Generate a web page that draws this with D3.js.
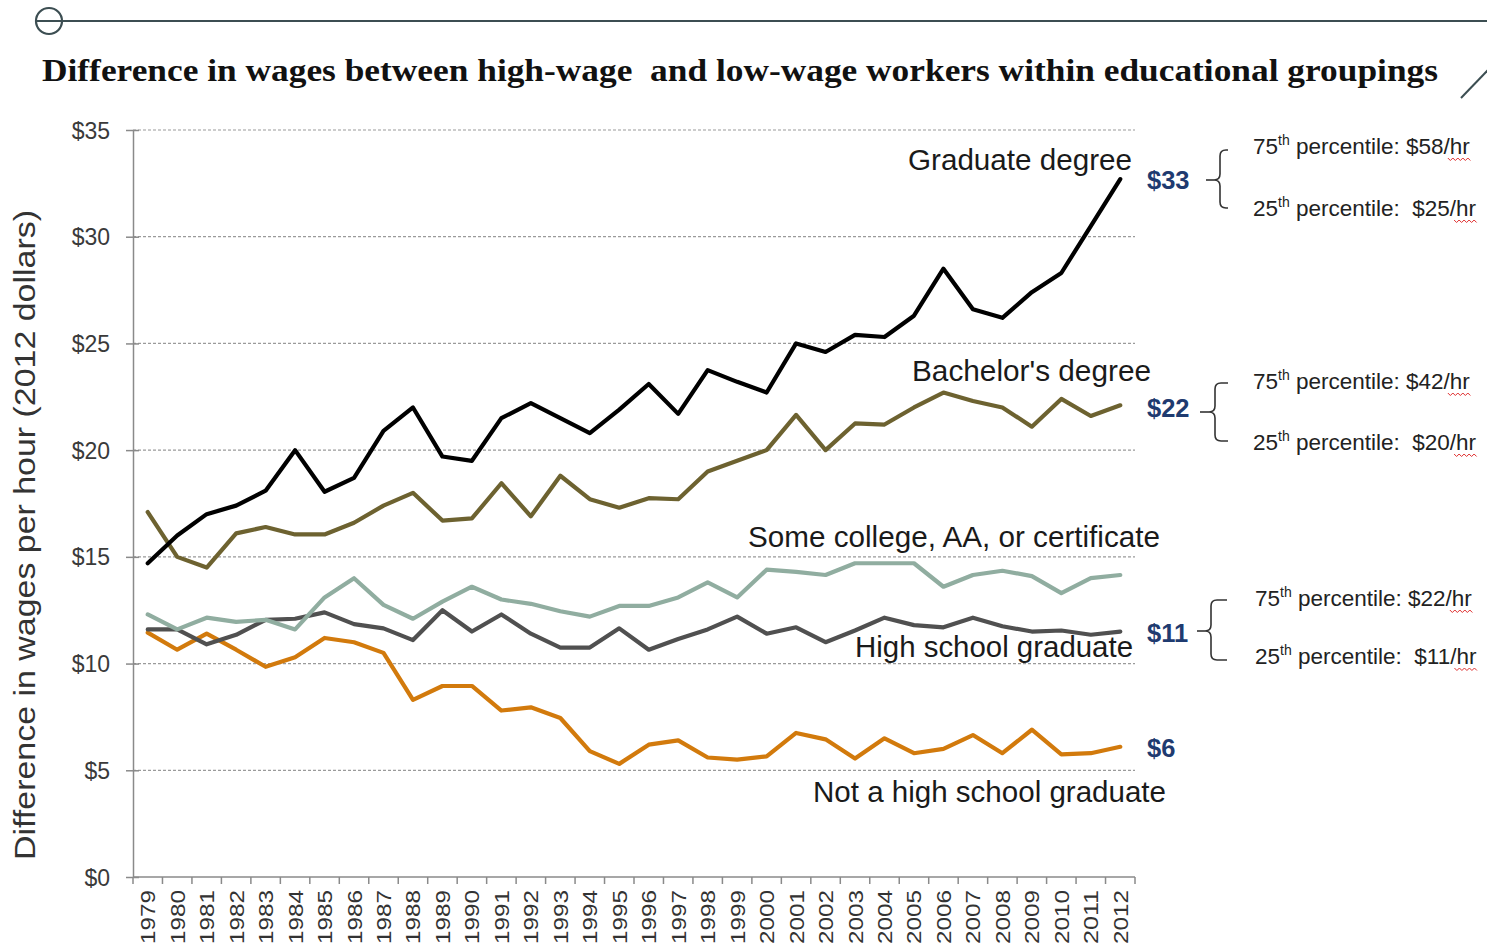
<!DOCTYPE html>
<html>
<head>
<meta charset="utf-8">
<script src="https://cdn.jsdelivr.net/npm/d3@7"></script>
<style>
  html, body { margin: 0; padding: 0; background: #fff; }
  svg { display: block; }
  text { font-family: "Liberation Sans", Arial, sans-serif; }
</style>
</head>
<body>
<svg id="chart" width="1487" height="952"></svg>
<script>
// ---------- DATA ----------
const years = [1979,1980,1981,1982,1983,1984,1985,1986,1987,1988,1989,1990,1991,1992,1993,1994,1995,1996,1997,1998,1999,2000,2001,2002,2003,2004,2005,2006,2007,2008,2009,2010,2011,2012];

const graduateDegree = [14.7,16.0,17.0,17.4,18.1,20.0,18.05,18.7,20.9,22.0,19.7,19.5,21.5,22.2,21.5,20.8,21.9,23.1,21.7,23.75,23.2,22.7,25.0,24.6,25.4,25.3,26.3,28.5,26.6,26.2,27.4,28.3,30.5,32.7];
const bachelorsDegree = [17.1,15.0,14.5,16.1,16.4,16.05,16.05,16.6,17.4,18.0,16.7,16.8,18.45,16.9,18.8,17.7,17.3,17.75,17.7,19.0,19.5,20.0,21.65,20.0,21.25,21.2,22.0,22.7,22.3,22.0,21.1,22.4,21.6,22.1];
const someCollege = [12.3,11.6,12.15,11.95,12.05,11.6,13.1,14.0,12.75,12.1,12.9,13.6,13.0,12.8,12.45,12.2,12.7,12.7,13.1,13.8,13.1,14.4,14.3,14.15,14.7,14.7,14.7,13.6,14.15,14.35,14.1,13.3,14.0,14.15];
const highSchoolGraduate = [11.6,11.6,10.9,11.35,12.05,12.1,12.4,11.85,11.65,11.1,12.5,11.5,12.3,11.4,10.75,10.75,11.65,10.65,11.15,11.6,12.2,11.4,11.7,11.0,11.55,12.15,11.8,11.7,12.15,11.75,11.5,11.55,11.35,11.5];
const notHighSchoolGraduate = [11.45,10.65,11.4,10.65,9.85,10.3,11.2,11.0,10.5,8.3,8.95,8.95,7.8,7.95,7.45,5.9,5.3,6.2,6.4,5.6,5.5,5.65,6.75,6.45,5.55,6.5,5.8,6.0,6.65,5.8,6.9,5.75,5.8,6.1];

const seriesNames = ["Graduate degree","Bachelor's degree","Some college, AA, or certificate","High school graduate","Not a high school graduate"];
const yTicks = [0,5,10,15,20,25,30,35];
const endValueLabels = ["$33","$22","$11","$6"];
const pct75Labels = ["$58/hr","$42/hr","$22/hr"];
const pct25Labels = ["$25/hr","$20/hr","$11/hr"];

const titleText = "Difference in wages between high-wage  and low-wage workers within educational groupings";
const yTitleText = "Difference in wages per hour (2012 dollars)";

// ---------- SETUP ----------
const svg = d3.select("#chart");
const plot = {left: 133, right: 1135, top: 130, bottom: 877};

const x = d3.scaleBand().domain(years).range([plot.left, plot.right]).padding(0);
const y = d3.scaleLinear().domain([0, 35]).range([plot.bottom, plot.top]);
const cx = yr => x(yr) + x.bandwidth() / 2;

// ---------- DECORATION ----------
svg.append("circle").attr("cx", 49).attr("cy", 21).attr("r", 13)
  .attr("fill", "none").attr("stroke", "#3c4e52").attr("stroke-width", 2.2);
svg.append("line").attr("x1", 36).attr("x2", 1487).attr("y1", 21).attr("y2", 21)
  .attr("stroke", "#3c4e52").attr("stroke-width", 2.2);
svg.append("line").attr("x1", 1461).attr("y1", 98).attr("x2", 1488).attr("y2", 70)
  .attr("stroke", "#3c4e52").attr("stroke-width", 2);

// ---------- TITLE ----------
svg.append("text")
  .attr("x", 42).attr("y", 81)
  .attr("textLength", 1396).attr("lengthAdjust", "spacingAndGlyphs")
  .style("white-space", "pre")
  .style("font-family", "'Liberation Serif', 'DejaVu Serif', serif")
  .style("font-weight", "bold").style("font-size", "31px").attr("fill", "#111")
  .text(titleText);

// ---------- GRID ----------
svg.append("g").selectAll("line")
  .data(yTicks.filter(d => d > 0))
  .join("line")
  .attr("x1", plot.left).attr("x2", plot.right)
  .attr("y1", d => y(d)).attr("y2", d => y(d))
  .attr("stroke", "#9a9a9a").attr("stroke-width", 1.2).attr("stroke-dasharray", "3,2");

// ---------- Y AXIS ----------
const yAxis = d3.axisLeft(y).tickValues(yTicks).tickSize(0).tickFormat(d => "$" + d);
const yg = svg.append("g").attr("transform", `translate(${plot.left},0)`).call(yAxis);
yg.select(".domain").attr("stroke", "#8a8a8a").attr("stroke-width", 1.5);
yg.selectAll(".tick line").remove();
yg.selectAll(".tick").append("line").attr("x1", -7).attr("x2", 6)
  .attr("stroke", "#8a8a8a").attr("stroke-width", 1.5);
yg.selectAll(".tick text").attr("x", -23).attr("dy", "0.35em")
  .style("font-size", "23px").attr("fill", "#3a3a3a")
  .style("font-family", "'Liberation Sans', Arial, sans-serif");

// ---------- X AXIS ----------
const xg = svg.append("g").attr("transform", `translate(0,${plot.bottom})`);
xg.append("line").attr("x1", plot.left).attr("x2", plot.right).attr("y1", 0).attr("y2", 0)
  .attr("stroke", "#8a8a8a").attr("stroke-width", 1.5);
const boundaries = years.map(yr => x(yr)).concat([plot.right]);
xg.selectAll("line.tk").data(boundaries).join("line").attr("class", "tk")
  .attr("x1", d => d).attr("x2", d => d).attr("y1", 0).attr("y2", 7)
  .attr("stroke", "#8a8a8a").attr("stroke-width", 1.5);
xg.selectAll("text.yr").data(years).join("text").attr("class", "yr")
  .attr("transform", d => `translate(${cx(d) + 7.5},${13}) rotate(-90)`)
  .attr("text-anchor", "end")
  .attr("textLength", 54).attr("lengthAdjust", "spacingAndGlyphs")
  .style("font-size", "21px").attr("fill", "#333")
  .text(d => d);

// ---------- Y TITLE ----------
svg.append("text")
  .attr("transform", "translate(35,535) rotate(-90)")
  .attr("text-anchor", "middle")
  .attr("textLength", 650).attr("lengthAdjust", "spacingAndGlyphs")
  .style("font-size", "29px").attr("fill", "#333")
  .text(yTitleText);

// ---------- LINES ----------
const series = [
  {name: seriesNames[0], values: graduateDegree, color: "#000000"},
  {name: seriesNames[1], values: bachelorsDegree, color: "#6d6230"},
  {name: seriesNames[2], values: someCollege, color: "#90ada0"},
  {name: seriesNames[3], values: highSchoolGraduate, color: "#505050"},
  {name: seriesNames[4], values: notHighSchoolGraduate, color: "#d27a0c"}
];
const line = d3.line().x((d, i) => cx(years[i])).y(d => y(d));
[4, 3, 2, 1, 0].forEach(k => {
  svg.append("path").datum(series[k].values)
    .attr("d", line).attr("fill", "none")
    .attr("stroke", series[k].color).attr("stroke-width", 4.2)
    .attr("stroke-linejoin", "round").attr("stroke-linecap", "round");
});

// ---------- SERIES LABELS ----------
const seriesLabelPos = [
  {x: 1132, y: 170, w: 224},
  {x: 1151, y: 381, w: 239},
  {x: 1160, y: 547, w: 412},
  {x: 1133, y: 657, w: 278},
  {x: 1166, y: 802, w: 353}
];
svg.append("g").selectAll("text").data(seriesNames).join("text")
  .attr("x", (d, i) => seriesLabelPos[i].x).attr("y", (d, i) => seriesLabelPos[i].y)
  .attr("text-anchor", "end")
  .attr("textLength", (d, i) => seriesLabelPos[i].w).attr("lengthAdjust", "spacingAndGlyphs")
  .style("font-size", "29px").attr("fill", "#1a1a1a")
  .text(d => d);

// ---------- END VALUE LABELS ----------
const valueLabelY = [180, 408, 633, 748];
svg.append("g").selectAll("text").data(endValueLabels).join("text")
  .attr("x", 1147).attr("y", (d, i) => valueLabelY[i]).attr("dy", "0.35em")
  .style("font-size", "25.5px").style("font-weight", "bold").attr("fill", "#1f3b70")
  .text(d => d);

// ---------- BRACES ----------
const braces = [
  {stubX: 1206, vx: 1220, mid: 180, top: 150, bot: 208, hook: 1228},
  {stubX: 1200, vx: 1215, mid: 412, top: 383, bot: 441, hook: 1228},
  {stubX: 1197, vx: 1211, mid: 631, top: 600, bot: 660, hook: 1227}
];
braces.forEach(b => {
  const r = 6;
  const p = d3.path();
  p.moveTo(b.hook, b.top);
  p.lineTo(b.vx + r, b.top);
  p.quadraticCurveTo(b.vx, b.top, b.vx, b.top + r);
  p.lineTo(b.vx, b.mid - r);
  p.quadraticCurveTo(b.vx, b.mid, b.vx - r, b.mid);
  p.quadraticCurveTo(b.vx, b.mid, b.vx, b.mid + r);
  p.lineTo(b.vx, b.bot - r);
  p.quadraticCurveTo(b.vx, b.bot, b.vx + r, b.bot);
  p.lineTo(b.hook, b.bot);
  svg.append("path").attr("d", p.toString()).attr("fill", "none")
    .attr("stroke", "#333").attr("stroke-width", 1.6);
  svg.append("line").attr("x1", b.stubX).attr("x2", b.vx - r).attr("y1", b.mid).attr("y2", b.mid)
    .attr("stroke", "#333").attr("stroke-width", 1.6);
});

// ---------- PERCENTILE TEXTS ----------
const pctRows = [
  {x: 1253, y75: 154, y25: 216},
  {x: 1253, y75: 389, y25: 450},
  {x: 1255, y75: 606, y25: 664}
];
function pctText(px, py, ord, value, gap) {
  const t = svg.append("text").attr("x", px).attr("y", py)
    .style("font-size", "22.5px").attr("fill", "#222").style("white-space", "pre");
  t.append("tspan").text(ord);
  t.append("tspan").attr("dy", -9).style("font-size", "14px").text("th");
  t.append("tspan").attr("dy", 9).text(" percentile:" + gap + value);
  const len = t.node().getComputedTextLength();
  const end = px + len, start = end - 22;
  let d = `M${start},${py + 4}`;
  for (let xx = start, k = 0; xx < end; xx += 2.5, k++) {
    d += ` L${xx + 2.5},${py + (k % 2 === 0 ? 6.5 : 4)}`;
  }
  svg.append("path").attr("d", d).attr("fill", "none").attr("stroke", "#e03030").attr("stroke-width", 1);
}
pctRows.forEach((r, i) => {
  pctText(r.x, r.y75, "75", pct75Labels[i], " ");
  pctText(r.x, r.y25, "25", pct25Labels[i], "  ");
});
</script>
</body>
</html>
